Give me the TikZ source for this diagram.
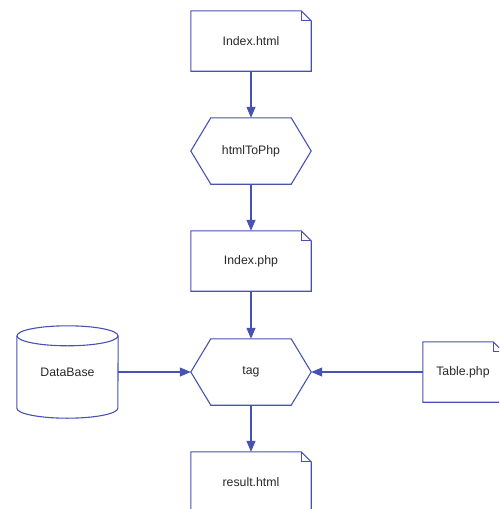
\documentclass[tikz,border=0pt]{standalone}
\usepackage{fontspec}
\setmainfont{Liberation Sans}
\usetikzlibrary{arrows.meta,calc}
\definecolor{edge}{RGB}{72,82,178}
\definecolor{txt}{RGB}{40,40,40}
\tikzset{
  x=1pt, y=-1pt,
  lbl/.style={inner sep=0pt, text=txt, font=\fontsize{12.3}{14}\selectfont},
  docnode/.style={lbl, minimum width=120pt, minimum height=60pt},
  hexnode/.style={lbl, minimum width=120pt, minimum height=66pt},
  cylnode/.style={lbl, minimum width=101pt, minimum height=92pt},
  outline/.style={draw=edge, line width=1.1pt, line join=miter},
  conn/.style={draw=edge, line width=1.1pt, -{Triangle[length=11pt,width=9pt]}}
}
\newcommand{\docshape}[1]{%
  \draw[outline] (#1.south west) -- (#1.north west) -- ($(#1.north east)+(-10,0)$) -- ($(#1.north east)+(0,10)$) -- (#1.south east) -- cycle;
  \draw[outline] ($(#1.north east)+(-10,0)$) -- ($(#1.north east)+(-10,10)$) -- ($(#1.north east)+(0,10)$);
}
\newcommand{\hexshape}[1]{%
  \draw[outline] (#1.west) -- ($(#1.north west)+(20,0)$) -- ($(#1.north east)+(-20,0)$) -- (#1.east) -- ($(#1.south east)+(-20,0)$) -- ($(#1.south west)+(20,0)$) -- cycle;
}
\begin{document}
\begin{tikzpicture}
\useasboundingbox (0,0) rectangle (499,509);
\begin{scope}
\clip (0,0) rectangle (499,509);
\node[docnode] (ih) at (251,41) {Index.html};
\node[hexnode] (hp) at (251,151) {htmlToPhp};
\node[docnode] (ip) at (251,261) {Index.php};
\node[hexnode] (tag) at (251,372) {tag};
\node[cylnode] (db) at (67.5,372) {DataBase};
\node[docnode, minimum width=80pt] (tp) at (463,372) {Table.php};
\node[docnode] (rh) at (251,482) {result.html};

\docshape{ih}
\hexshape{hp}
\docshape{ip}
\hexshape{tag}
\docshape{tp}
\docshape{rh}
% cylinder
\draw[outline] ($(db.north)+(0,10)$) ellipse [x radius=50.5pt, y radius=10pt];
\draw[outline] ($(db.north west)+(0,10)$) -- ($(db.south west)+(0,-10)$)
  arc[start angle=180, end angle=360, x radius=50.5pt, y radius=10pt]
  -- ($(db.north east)+(0,10)$);

\draw[conn] (ih.south) -- (hp.north);
\draw[conn] (hp.south) -- (ip.north);
\draw[conn] (ip.south) -- (tag.north);
\draw[conn] (db.east) -- (tag.west);
\draw[conn] (tp.west) -- (tag.east);
\draw[conn] (tag.south) -- (rh.north);
\end{scope}
\end{tikzpicture}
\end{document}
